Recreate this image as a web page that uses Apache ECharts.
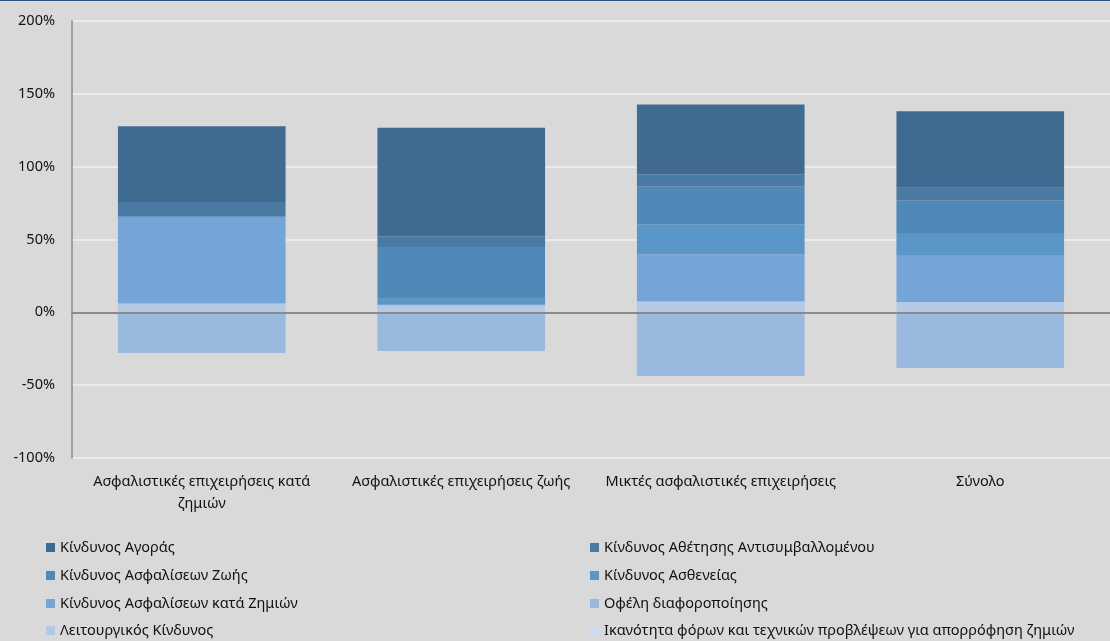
<!DOCTYPE html>
<html>
<head>
<meta charset="utf-8">
<script src="https://cdn.jsdelivr.net/npm/echarts@6/dist/echarts.min.js"></script>
<style>
    html, body { margin: 0; padding: 0; background: #d9d9d9; }
    #chart { width: 1110px; height: 641px; }
    #topline { position: absolute; left: 0; top: 0; width: 1110px; height: 1px; background: #2d5587; z-index: 5; }
</style>
</head>
<body>
<div id="topline"></div>
<div id="chart"></div>
<script>
// κατηγορίες
const categories = [
    'Ασφαλιστικές επιχειρήσεις κατά\nζημιών',
    'Ασφαλιστικές επιχειρήσεις ζωής',
    'Μικτές ασφαλιστικές επιχειρήσεις',
    'Σύνολο'
];

// τιμές (%)
const marketRisk = [52.0, 74.6, 48.0, 52.6];
const counterpartyRisk = [9.8, 7.3, 8.3, 8.7];
const lifeRisk = [0.5, 35.4, 26.0, 22.4];
const healthRisk = [0.5, 3.6, 20.6, 15.5];
const nonLifeRisk = [59.0, 1.0, 32.3, 31.8];
const diversification = [-28.0, -26.5, -43.7, -38.2];
const operationalRisk = [6.0, 4.8, 7.5, 7.1];
const taxAdjustment = [0, 0, 0, 0];

const yTicks = { min: -100, max: 200, interval: 50 };

const FONT = 'Noto Sans';

// σειρά στοίβας: από κάτω προς τα πάνω
const seriesDefs = [
    { name: 'Λειτουργικός Κίνδυνος', data: operationalRisk, color: '#b4c9e6' },
    { name: 'Κίνδυνος Ασφαλίσεων κατά Ζημιών', data: nonLifeRisk, color: '#75a5d6' },
    { name: 'Κίνδυνος Ασθενείας', data: healthRisk, color: '#5b96c9' },
    { name: 'Κίνδυνος Ασφαλίσεων Ζωής', data: lifeRisk, color: '#5088b8' },
    { name: 'Κίνδυνος Αθέτησης Αντισυμβαλλομένου', data: counterpartyRisk, color: '#4a79a3' },
    { name: 'Κίνδυνος Αγοράς', data: marketRisk, color: '#3f6b91' },
    { name: 'Οφέλη διαφοροποίησης', data: diversification, color: '#99b9de' },
    { name: 'Ικανότητα φόρων και τεχνικών προβλέψεων για απορρόφηση ζημιών', data: taxAdjustment, color: '#d0ddef' }
];

// υπόμνημα σε δύο στήλες (σειρά ανά γραμμή)
const legendOrder = [
    'Κίνδυνος Αγοράς',
    'Κίνδυνος Αθέτησης Αντισυμβαλλομένου',
    'Κίνδυνος Ασφαλίσεων Ζωής',
    'Κίνδυνος Ασθενείας',
    'Κίνδυνος Ασφαλίσεων κατά Ζημιών',
    'Οφέλη διαφοροποίησης',
    'Λειτουργικός Κίνδυνος',
    'Ικανότητα φόρων και τεχνικών προβλέψεων για απορρόφηση ζημιών'
];

const legendColX = [46, 590];
const legendRowY = [549, 577, 605, 632];

const legends = legendOrder.map((name, i) => ({
    data: [name],
    left: legendColX[i % 2],
    top: legendRowY[Math.floor(i / 2)] - 9,
    padding: 0,
    icon: 'rect',
    itemWidth: 9,
    itemHeight: 9,
    textStyle: { fontFamily: FONT, fontSize: 14.5, color: '#111' },
    selectedMode: false
}));

const chart = echarts.init(document.getElementById('chart'));

const option = {
    backgroundColor: '#d9d9d9',
    animation: false,
    grid: {
        left: 72,
        right: -7,
        top: 21,
        bottom: 183
    },
    legend: legends,
    xAxis: {
        type: 'category',
        data: categories,
        z: 5,
        axisLine: { onZero: true, lineStyle: { color: '#8a8a8a', width: 2 } },
        axisTick: { show: false },
        axisLabel: {
            interval: 0,
            fontFamily: FONT,
            fontSize: 14.5,
            color: '#111',
            lineHeight: 22,
            margin: 13
        }
    },
    yAxis: {
        type: 'value',
        min: yTicks.min,
        max: yTicks.max,
        interval: yTicks.interval,
        axisLine: { show: true, lineStyle: { color: '#8a8a8a', width: 1.5 } },
        axisTick: { show: false },
        splitLine: { lineStyle: { color: '#efefef', width: 1.5 } },
        axisLabel: {
            formatter: '{value}%',
            fontFamily: FONT,
            fontSize: 14.5,
            color: '#111',
            margin: 17
        }
    },
    series: seriesDefs.map(s => ({
        name: s.name,
        type: 'bar',
        stack: 'total',
        barWidth: '64.6%',
        data: s.data,
        itemStyle: { color: s.color }
    }))
};

chart.setOption(option);
</script>
</body>
</html>
